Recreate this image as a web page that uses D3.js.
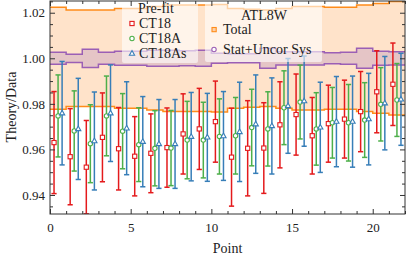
<!DOCTYPE html>
<html>
<head>
<meta charset="utf-8">
<script src="https://cdn.jsdelivr.net/npm/d3@7"></script>
<style>
  body { margin: 0; background: #fff; }
  text { font-family: "Liberation Serif", "DejaVu Serif", serif; fill: #222; }
</style>
</head>
<body>
<div id="chart"></div>
<script>
// data points (bin index)
var points = [0, 1, 2, 3, 4, 5, 6, 7, 8, 9, 10, 11, 12, 13, 14, 15, 16, 17, 18, 19, 20, 21];

// Pre-fit theory/data
var ct18 = [0.9630, 0.9568, 0.9522, 0.9653, 0.9603, 0.9570, 0.9583, 0.9608, 0.9668, 0.9690, 0.9722,
            0.9566, 0.9605, 0.9606, 0.9708, 0.9753, 0.9660, 0.9713, 0.9733, 0.9766, 0.9853, 0.9886];
var ct18Err = [0.0224, 0.0211, 0.0205, 0.0195, 0.0181, 0.0174, 0.0173, 0.0174, 0.0176, 0.0178, 0.0178,
               0.0215, 0.0209, 0.0199, 0.0189, 0.0178, 0.0168, 0.0169, 0.0171, 0.0176, 0.0180, 0.0181];
var ct18a = [0.9747, 0.9681, 0.9625, 0.9747, 0.9680, 0.9621, 0.9605, 0.9606, 0.9641, 0.9641, 0.9657,
             0.9660, 0.9696, 0.9690, 0.9783, 0.9808, 0.9690, 0.9717, 0.9717, 0.9729, 0.9798, 0.9817];
var ct18aErr = [0.0180, 0.0176, 0.0171, 0.0175, 0.0165, 0.0162, 0.0165, 0.0165, 0.0170, 0.0166, 0.0165,
                0.0168, 0.0168, 0.0163, 0.0162, 0.0162, 0.0159, 0.0155, 0.0168, 0.0164, 0.0161, 0.0160];
var ct18as = [0.9759, 0.9690, 0.9637, 0.9759, 0.9693, 0.9634, 0.9624, 0.9624, 0.9656, 0.9653, 0.9659,
              0.9677, 0.9711, 0.9703, 0.9791, 0.9812, 0.9697, 0.9722, 0.9722, 0.9733, 0.9803, 0.9820];
var ct18asErr = [0.0227, 0.0222, 0.0215, 0.0212, 0.0204, 0.0198, 0.0195, 0.0195, 0.0194, 0.0193, 0.0195,
                 0.0218, 0.0216, 0.0211, 0.0208, 0.0198, 0.0198, 0.0198, 0.0200, 0.0201, 0.0205, 0.0202];

// ATL8W uncertainties (relative, band around 1)
var totalErr = [0.0224, 0.0212, 0.0212, 0.0212, 0.0219, 0.0219, 0.0227, 0.0234, 0.0234, 0.0234, 0.0236,
                0.0219, 0.0215, 0.0212, 0.0219, 0.0227, 0.0227, 0.0224, 0.0224, 0.0234, 0.0241, 0.0249];
var statErr = [0.0026, 0.0018, 0.0040, 0.0026, 0.0031, 0.0031, 0.0035, 0.0035, 0.0033, 0.0035, 0.0022,
               0.0020, 0.0020, 0.0044, 0.0029, 0.0029, 0.0029, 0.0024, 0.0026, 0.0044, 0.0031, 0.0029];

var xTicks = [0, 5, 10, 15, 20];
var yTicks = [0.94, 0.96, 0.98, 1.00, 1.02];

var w = 407, h = 260;
var plotL = 50, plotR = 405, plotT = 1, plotB = 214;

var svg = d3.select("#chart").append("svg")
  .attr("width", w)
  .attr("height", h);

var x = d3.scaleLinear().domain([0, 22]).range([plotL, plotR]);
var y = d3.scaleLinear().domain([0.93165, 1.02515]).range([plotB, plotT]);

svg.append("clipPath").attr("id", "plot")
  .append("rect")
  .attr("x", plotL).attr("y", plotT)
  .attr("width", plotR - plotL).attr("height", plotB - plotT);

var plot = svg.append("g").attr("clip-path", "url(#plot)");

// step bands, each bin covers [i, i+1]
function stepData(err) {
  var d = points.map(function(p, i) { return {x: p, e: err[i]}; });
  d.push({x: points[points.length - 1] + 1, e: err[err.length - 1]});
  return d;
}

function band(err, fill, fillOpacity, stroke) {
  var data = stepData(err);
  var area = d3.area().curve(d3.curveStepAfter)
    .x(function(d) { return x(d.x); })
    .y0(function(d) { return y(1 - d.e); })
    .y1(function(d) { return y(1 + d.e); });
  plot.append("path").datum(data)
    .attr("d", area)
    .attr("fill", fill)
    .attr("fill-opacity", fillOpacity);
  [1, -1].forEach(function(s) {
    var line = d3.line().curve(d3.curveStepAfter)
      .x(function(d) { return x(d.x); })
      .y(function(d) { return y(1 + s * d.e); });
    plot.append("path").datum(data)
      .attr("d", line)
      .attr("fill", "none")
      .attr("stroke", stroke)
      .attr("stroke-width", 1.5);
  });
}

band(totalErr, "#ff7f0e", 0.22, "#ff8c1a");
band(statErr, "#9467bd", 0.24, "#9b5fb5");

// error bars
var series = [
  {name: "CT18", vals: ct18, errs: ct18Err, color: "#e41a1c", shift: 0.25, marker: "square"},
  {name: "CT18A", vals: ct18a, errs: ct18aErr, color: "#4daf4a", shift: 0.5, marker: "circle"},
  {name: "CT18As", vals: ct18as, errs: ct18asErr, color: "#377eb8", shift: 0.75, marker: "triangle"}
];

function drawMarker(g, type, cx, cy, color) {
  if (type === "square") {
    g.append("rect").attr("x", cx - 2.1).attr("y", cy - 2.1)
      .attr("width", 4.2).attr("height", 4.2)
      .attr("fill", "#fff").attr("stroke", color).attr("stroke-width", 1.1);
  } else if (type === "circle") {
    g.append("circle").attr("cx", cx).attr("cy", cy).attr("r", 2.2)
      .attr("fill", "#fff").attr("stroke", color).attr("stroke-width", 1.1);
  } else {
    g.append("path")
      .attr("d", "M" + cx + "," + (cy - 2.9) + "L" + (cx + 2.6) + "," + (cy + 1.7) + "L" + (cx - 2.6) + "," + (cy + 1.7) + "Z")
      .attr("fill", "#fff").attr("stroke", color).attr("stroke-width", 1.1);
  }
}

series.forEach(function(s) {
  var g = plot.append("g");
  points.forEach(function(p, i) {
    var cx = x(p + s.shift);
    var yt = y(s.vals[i] + s.errs[i]);
    var yb = y(s.vals[i] - s.errs[i]);
    g.append("line").attr("x1", cx).attr("x2", cx).attr("y1", yt).attr("y2", yb)
      .attr("stroke", s.color).attr("stroke-width", 1.5);
    [yt, yb].forEach(function(yy) {
      g.append("line").attr("x1", cx - 2.6).attr("x2", cx + 2.6).attr("y1", yy).attr("y2", yy)
        .attr("stroke", s.color).attr("stroke-width", 1.5);
    });
    drawMarker(g, s.marker, cx, y(s.vals[i]), s.color);
  });
});

// legends
svg.append("rect").attr("x", 122).attr("y", 2).attr("width", 76).attr("height", 61)
  .attr("rx", 2).attr("fill", "#fff").attr("fill-opacity", 0.6);
svg.append("rect").attr("x", 205).attr("y", 2).attr("width", 117).attr("height", 60)
  .attr("rx", 2).attr("fill", "#fff").attr("fill-opacity", 0.6);

svg.append("text").attr("x", 156).attr("y", 8).attr("dy", "0.35em")
  .attr("text-anchor", "middle").style("font-size", "14px").text("Pre-fit");
series.forEach(function(s, i) {
  var ly = 23.5 + i * 15;
  var g = svg.append("g");
  drawMarker(g, s.marker, 132, ly, s.color);
  svg.append("text").attr("x", 139).attr("y", ly).attr("dy", "0.35em")
    .style("font-size", "14px").text(s.name);
});

svg.append("text").attr("x", 264).attr("y", 15).attr("dy", "0.35em")
  .attr("text-anchor", "middle").style("font-size", "14px").text("ATL8W");
svg.append("rect").attr("x", 212).attr("y", 27.5).attr("width", 4.2).attr("height", 4.2)
  .attr("fill", "#fdd0a8").attr("stroke", "#ff8c1a").attr("stroke-width", 1.1);
svg.append("text").attr("x", 223).attr("y", 29.5).attr("dy", "0.35em")
  .style("font-size", "14px").text("Total");
svg.append("circle").attr("cx", 214).attr("cy", 49.5).attr("r", 2.2)
  .attr("fill", "#fff").attr("stroke", "#9b5fb5").attr("stroke-width", 1.1);
svg.append("text").attr("x", 223).attr("y", 49.5).attr("dy", "0.35em")
  .style("font-size", "14px").text("Stat+Uncor Sys");

// axes, ticks pointing inward on all four sides
function styleAxis(g) {
  g.select(".domain").remove();
  g.selectAll(".tick line").attr("stroke", "#333");
  g.selectAll("text").style("font-size", "13px").attr("fill", "#222");
}

var xMinor = d3.range(0, 23, 1).filter(function(v) { return xTicks.indexOf(v) < 0; });
var yMinor = d3.range(0.935, 1.026, 0.005).filter(function(v) {
  return yTicks.every(function(t) { return Math.abs(t - v) > 1e-6; });
});

svg.append("g").attr("transform", "translate(0," + plotB + ")")
  .call(d3.axisBottom(x).tickValues(xTicks).tickSize(-5).tickPadding(9).tickFormat(d3.format("d")))
  .call(styleAxis);
svg.append("g").attr("transform", "translate(0," + plotB + ")")
  .call(d3.axisBottom(x).tickValues(xMinor).tickSize(-3).tickFormat(""))
  .call(styleAxis);
svg.append("g").attr("transform", "translate(0," + plotT + ")")
  .call(d3.axisTop(x).tickValues(xTicks).tickSize(-5).tickFormat(""))
  .call(styleAxis);
svg.append("g").attr("transform", "translate(0," + plotT + ")")
  .call(d3.axisTop(x).tickValues(xMinor).tickSize(-3).tickFormat(""))
  .call(styleAxis);

svg.append("g").attr("transform", "translate(" + plotL + ",0)")
  .call(d3.axisLeft(y).tickValues(yTicks).tickSize(-5).tickPadding(5).tickFormat(d3.format(".2f")))
  .call(styleAxis);
svg.append("g").attr("transform", "translate(" + plotL + ",0)")
  .call(d3.axisLeft(y).tickValues(yMinor).tickSize(-3).tickFormat(""))
  .call(styleAxis);
svg.append("g").attr("transform", "translate(" + plotR + ",0)")
  .call(d3.axisRight(y).tickValues(yTicks).tickSize(-5).tickFormat(""))
  .call(styleAxis);
svg.append("g").attr("transform", "translate(" + plotR + ",0)")
  .call(d3.axisRight(y).tickValues(yMinor).tickSize(-3).tickFormat(""))
  .call(styleAxis);

svg.append("rect").attr("x", plotL).attr("y", plotT)
  .attr("width", plotR - plotL).attr("height", plotB - plotT)
  .attr("fill", "none").attr("stroke", "#333").attr("stroke-width", 1);

// axis titles
svg.append("text").attr("x", (plotL + plotR) / 2).attr("y", 248).attr("dy", "0.35em")
  .attr("text-anchor", "middle").style("font-size", "14px").text("Point");
svg.append("text").attr("transform", "translate(11,107) rotate(-90)")
  .attr("dy", "0.35em").attr("text-anchor", "middle").style("font-size", "14px").text("Theory/Data");
</script>
</body>
</html>
